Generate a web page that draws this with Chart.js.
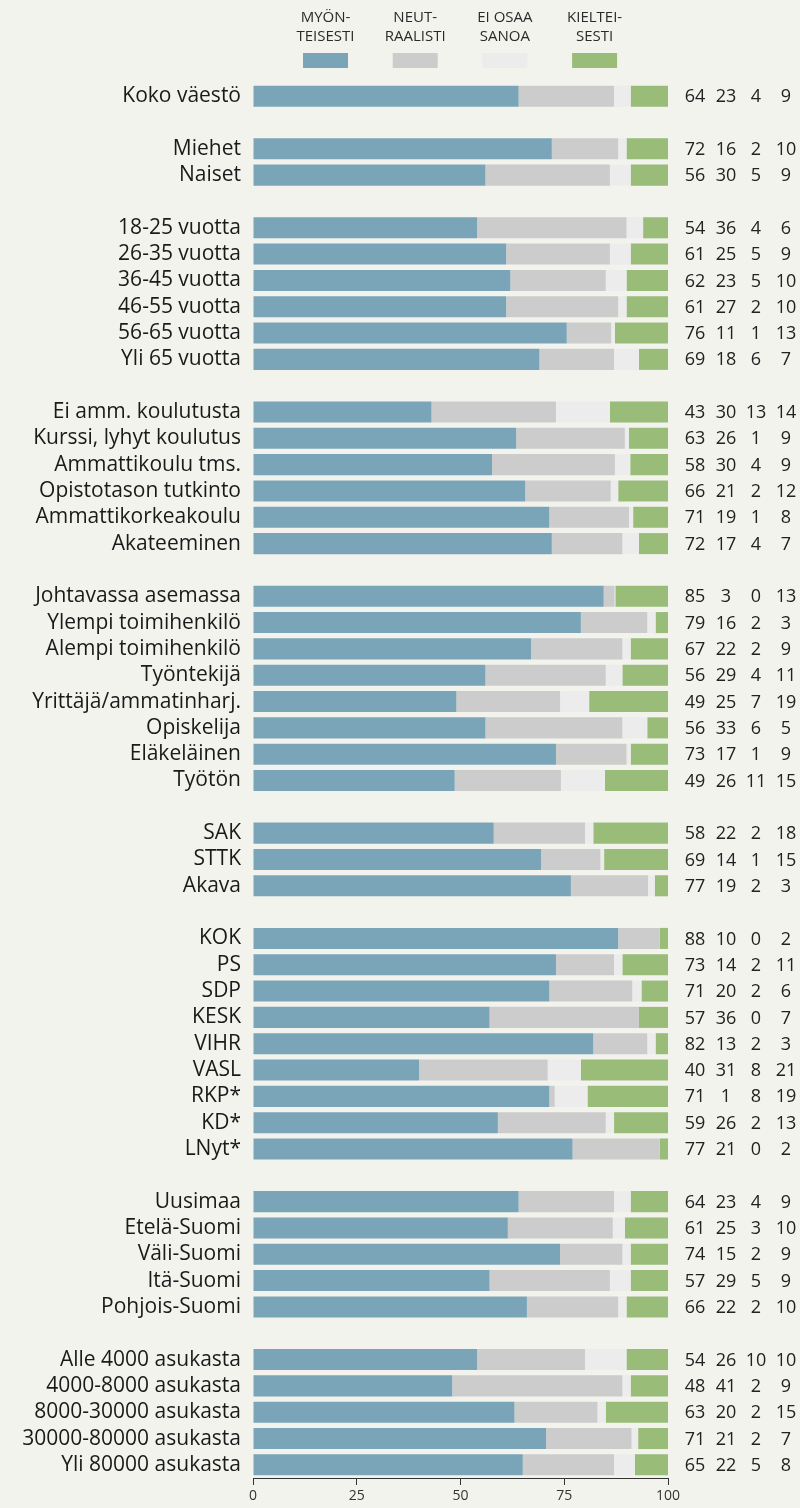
<!DOCTYPE html>
<html>
<head>
<meta charset="utf-8">
<script src="https://cdn.jsdelivr.net/npm/chart.js@4"></script>
<style>
  body { margin: 0; background: #f3f3ee; }
  #wrap { width: 800px; height: 1508px; position: relative; }
</style>
</head>
<body>
<div id="wrap"><canvas id="kuva"></canvas></div>
<script>
// Ryhmät (tyhjä merkkijono = väli ryhmien välissä)
const categories = [
  'Koko väestö', '',
  'Miehet', 'Naiset', '',
  '18-25 vuotta', '26-35 vuotta', '36-45 vuotta', '46-55 vuotta', '56-65 vuotta', 'Yli 65 vuotta', '',
  'Ei amm. koulutusta', 'Kurssi, lyhyt koulutus', 'Ammattikoulu tms.', 'Opistotason tutkinto', 'Ammattikorkeakoulu', 'Akateeminen', '',
  'Johtavassa asemassa', 'Ylempi toimihenkilö', 'Alempi toimihenkilö', 'Työntekijä', 'Yrittäjä/ammatinharj.', 'Opiskelija', 'Eläkeläinen', 'Työtön', '',
  'SAK', 'STTK', 'Akava', '',
  'KOK', 'PS', 'SDP', 'KESK', 'VIHR', 'VASL', 'RKP*', 'KD*', 'LNyt*', '',
  'Uusimaa', 'Etelä-Suomi', 'Väli-Suomi', 'Itä-Suomi', 'Pohjois-Suomi', '',
  'Alle 4000 asukasta', '4000-8000 asukasta', '8000-30000 asukasta', '30000-80000 asukasta', 'Yli 80000 asukasta'
];

// prosentit (luvut oikealla = pyöristetyt arvot)
const myonteisesti = [
  64, null,
  72, 56, null,
  54, 61, 62, 61, 75.6, 69, null,
  43, 63.4, 57.6, 65.6, 71.4, 72, null,
  84.5, 79, 67, 56, 49, 56, 73, 48.6, null,
  58, 69.4, 76.6, null,
  88, 73, 71.4, 57, 82, 40, 71.4, 59, 77, null,
  64, 61.4, 74, 57, 66, null,
  54, 48, 63, 70.6, 65
];
const neutraalisti = [
  23, null,
  16, 30, null,
  36, 25, 23, 27, 10.7, 18, null,
  30, 26.2, 29.6, 20.6, 19.2, 17, null,
  2.6, 16, 22, 29, 25, 33, 17, 25.6, null,
  22, 14.3, 18.6, null,
  10, 14, 20.0, 36, 13, 31, 1.3, 26, 21, null,
  23, 25.3, 15, 29, 22, null,
  26, 41, 20, 20.6, 22
];
const eiOsaaSanoa = [
  4, null,
  2, 5, null,
  4, 5, 5, 2, 0.9, 6, null,
  13, 1.0, 3.7, 1.8, 1.0, 4, null,
  0.2, 2, 2, 4, 7, 6, 1, 10.6, null,
  2, 0.9, 1.6, null,
  0, 2, 2.2, 0, 2, 8, 7.9, 2, 0, null,
  4, 2.9, 2, 5, 2, null,
  10, 2, 2, 1.6, 5
];
const kielteisesti = [
  9, null,
  10, 9, null,
  6, 9, 10, 10, 12.8, 7, null,
  14, 9.4, 9.1, 12.0, 8.4, 7, null,
  12.7, 3, 9, 11, 19, 5, 9, 15.2, null,
  18, 15.4, 3.2, null,
  2, 11, 6.4, 7, 3, 21, 19.4, 13, 2, null,
  9, 10.4, 9, 9, 10, null,
  10, 9, 15, 7.2, 8
];
const xTicks = [0, 25, 50, 75, 100];

const sarjat = [
  { nimi: ['MYÖN-', 'TEISESTI'], data: myonteisesti, vari: '#7aa4b7' },
  { nimi: ['NEUT-', 'RAALISTI'], data: neutraalisti, vari: '#cccccc' },
  { nimi: ['EI OSAA', 'SANOA'], data: eiOsaaSanoa, vari: '#ececec' },
  { nimi: ['KIELTEI-', 'SESTI'], data: kielteisesti, vari: '#99bd79' }
];

const FONTTI = '"Open Sans", "Noto Sans", sans-serif';

// Selite ylös ja luvut oikealle
const lisaPiirto = {
  id: 'lisaPiirto',
  afterDraw(chart) {
    const ctx = chart.ctx;
    const y = chart.scales.y;
    ctx.save();

    // selite
    ctx.textAlign = 'center';
    ctx.textBaseline = 'middle';
    ctx.font = '15px ' + FONTTI;
    sarjat.forEach((s, k) => {
      const cx = 325.5 + k * 89.7;
      ctx.fillStyle = '#2a2a2a';
      ctx.fillText(s.nimi[0], cx, 18);
      ctx.fillText(s.nimi[1], cx, 37);
      ctx.fillStyle = s.vari;
      ctx.fillRect(cx - 22.5, 53, 45, 15);
    });

    // luvut
    const sarakkeet = [695, 726, 756, 786];
    ctx.font = '18px ' + FONTTI;
    ctx.fillStyle = '#222';
    categories.forEach((c, i) => {
      if (!c) return;
      const py = y.getPixelForValue(i);
      sarjat.forEach((s, k) => {
        ctx.fillText(String(Math.round(s.data[i])), sarakkeet[k], py + 1);
      });
    });
    ctx.restore();
  }
};

const ctx = document.getElementById('kuva').getContext('2d');
new Chart(ctx, {
  type: 'bar',
  data: {
    labels: categories,
    datasets: sarjat.map(s => ({
      label: s.nimi.join(''),
      data: s.data,
      backgroundColor: s.vari,
      borderWidth: 0,
      barPercentage: 0.8,
      categoryPercentage: 1
    }))
  },
  options: {
    indexAxis: 'y',
    responsive: true,
    maintainAspectRatio: false,
    animation: false,
    layout: { padding: { top: 83, right: 132, left: 0, bottom: 0 } },
    plugins: {
      legend: { display: false },
      tooltip: { enabled: false }
    },
    scales: {
      x: {
        stacked: true,
        min: 0,
        max: 100,
        afterBuildTicks: scale => { scale.ticks = xTicks.map(v => ({ value: v })); },
        afterFit: scale => { scale.height = 30; },
        grid: { drawOnChartArea: false, drawTicks: true, tickLength: 7, color: '#333' },
        border: { display: true, color: '#333', width: 1 },
        ticks: { color: '#333', font: { family: FONTTI, size: 14 }, padding: 3, maxRotation: 0 }
      },
      y: {
        stacked: true,
        afterFit: scale => { scale.width = 253; },
        grid: { display: false, drawTicks: false },
        border: { display: false },
        ticks: {
          autoSkip: false,
          color: '#1a1a1a',
          padding: 12,
          font: { family: FONTTI, size: 21 }
        }
      }
    }
  },
  plugins: [lisaPiirto]
});
</script>
</body>
</html>
